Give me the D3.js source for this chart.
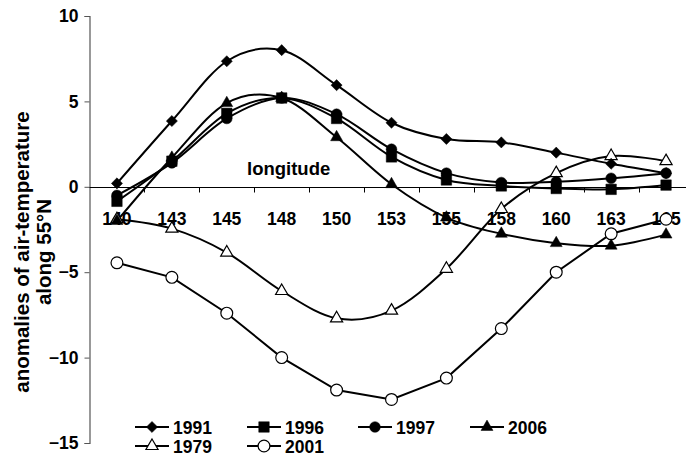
<!DOCTYPE html>
<html>
<head>
<meta charset="utf-8">
<script src="https://cdn.jsdelivr.net/npm/d3@7"></script>
<style>
  html, body { margin: 0; padding: 0; background: #fff; }
  svg { display: block; font-family: "Liberation Sans", Arial, sans-serif; font-weight: bold; }
</style>
</head>
<body>
<svg id="chart" width="686" height="456"></svg>
<script>
// Longitudes along 55°N
const longitudes = ["140", "143", "145", "148", "150", "153", "155", "158", "160", "163", "165"];

// Air-temperature anomalies per year
const v1991 = [0.2, 3.85, 7.35, 8.0, 5.95, 3.75, 2.8, 2.6, 2.0, 1.35, 0.8];
const v1996 = [-0.85, 1.5, 4.3, 5.2, 4.0, 1.75, 0.4, 0.05, -0.1, -0.15, 0.1];
const v1997 = [-0.5, 1.4, 4.0, 5.2, 4.25, 2.2, 0.8, 0.25, 0.3, 0.5, 0.8];
const v2006 = [-2.0, 1.7, 4.9, 5.2, 2.9, 0.15, -1.8, -2.75, -3.3, -3.45, -2.8];
const v1979 = [-1.9, -2.45, -3.85, -6.1, -7.7, -7.25, -4.8, -1.3, 0.8, 1.8, 1.5];
const v2001 = [-4.45, -5.3, -7.4, -10.0, -11.9, -12.45, -11.2, -8.3, -5.0, -2.75, -1.9];

const yTicks = [-15, -10, -5, 0, 5, 10];

// Diamond drawn as a square turned 45 degrees
const diamond = {
  draw(ctx, size) {
    const r = Math.sqrt(size / 2);
    ctx.moveTo(0, -r); ctx.lineTo(r, 0); ctx.lineTo(0, r); ctx.lineTo(-r, 0); ctx.closePath();
  }
};

const series = [
  { name: "1991", values: v1991, symbol: diamond, size: 62, fill: "#000", smooth: true },
  { name: "1996", values: v1996, symbol: d3.symbolSquare, size: 110, fill: "#000", smooth: true },
  { name: "1997", values: v1997, symbol: d3.symbolCircle, size: 90, fill: "#000", smooth: true },
  { name: "2006", values: v2006, symbol: d3.symbolTriangle, size: 62, fill: "#000", smooth: true },
  { name: "1979", values: v1979, symbol: d3.symbolTriangle, size: 64, fill: "#fff", smooth: true },
  { name: "2001", values: v2001, symbol: d3.symbolCircle, size: 110, fill: "#fff", smooth: false }
];

const svg = d3.select("#chart");

const x = d3.scaleBand().domain(longitudes).range([89.5, 693.5]);
const y = d3.scaleLinear().domain([-15, 10]).range([443, 16]);
const cx = d => x(d) + x.bandwidth() / 2;

// Y axis
const yAxis = svg.append("g")
  .attr("transform", "translate(89.5,0)")
  .call(d3.axisLeft(y).tickValues(yTicks).tickSize(5).tickPadding(6).tickFormat(d3.format("d")));
yAxis.select(".domain").attr("stroke", "#555").attr("stroke-width", 1.2);
yAxis.selectAll(".tick line").attr("stroke", "#555");
yAxis.selectAll(".tick text").attr("font-size", 17.5).attr("font-weight", "bold")
  .attr("font-family", "Liberation Sans, Arial, sans-serif").attr("fill", "#000");

// X axis on the zero line, ticks between categories
const x0 = Math.round(y(0)) + 0.5;
const xg = svg.append("g");
xg.append("line").attr("x1", 89.5).attr("x2", 686).attr("y1", x0).attr("y2", x0)
  .attr("stroke", "#000").attr("stroke-width", 1);
xg.selectAll("line.tk").data(longitudes.slice(1)).join("line").attr("class", "tk")
  .attr("x1", d => Math.round(x(d)) + 0.5).attr("x2", d => Math.round(x(d)) + 0.5)
  .attr("y1", x0).attr("y2", x0 + 5).attr("stroke", "#000");
xg.selectAll("text").data(longitudes).join("text")
  .attr("x", d => cx(d)).attr("y", x0 + 37)
  .attr("text-anchor", "middle").attr("font-size", 17.5).text(d => d);

// Axis titles
svg.append("text").attr("x", 247).attr("y", 175).attr("font-size", 18.5).text("longitude");
const yt = svg.append("text").attr("transform", "translate(0,252) rotate(-90)")
  .attr("text-anchor", "middle").attr("font-size", 20.5);
yt.append("tspan").attr("x", 0).attr("y", 29).text("anomalies of air-temperature");
yt.append("tspan").attr("x", 0).attr("y", 51).text("along 55°N");

// Lines
const smoothLine = d3.line().x((d, i) => cx(longitudes[i])).y(d => y(d)).curve(d3.curveCardinal.tension(0));
const straightLine = d3.line().x((d, i) => cx(longitudes[i])).y(d => y(d));

const plot = svg.append("g");
series.forEach(s => {
  plot.append("path").attr("d", (s.smooth ? smoothLine : straightLine)(s.values))
    .attr("fill", "none").attr("stroke", "#000").attr("stroke-width", 2);
});
// Open markers first, filled markers on top
const markerOrder = series.filter(s => s.fill === "#fff").concat(series.filter(s => s.fill !== "#fff"));
markerOrder.forEach(s => {
  plot.append("g").selectAll("path").data(s.values).join("path")
    .attr("transform", (d, i) => `translate(${cx(longitudes[i])},${y(d)})`)
    .attr("d", d3.symbol().type(s.symbol).size(s.size))
    .attr("fill", s.fill).attr("stroke", "#000").attr("stroke-width", s.fill === "#fff" ? 1.2 : 0.5);
});

// Legend
const legendPos = [[135, 427], [247, 427], [358, 427], [470, 427], [135, 446], [247, 446]];
series.forEach((s, i) => {
  const [lx, ly] = legendPos[i];
  const g = svg.append("g").attr("transform", `translate(${lx},${ly})`);
  g.append("line").attr("x1", 0).attr("x2", 34).attr("stroke", "#000").attr("stroke-width", 2);
  g.append("path").attr("transform", "translate(17,0)")
    .attr("d", d3.symbol().type(s.symbol).size(s.size))
    .attr("fill", s.fill).attr("stroke", "#000").attr("stroke-width", s.fill === "#fff" ? 1.2 : 0.5);
  g.append("text").attr("x", 38).attr("y", 6.5).attr("font-size", 17.5).text(s.name);
});
</script>
</body>
</html>
